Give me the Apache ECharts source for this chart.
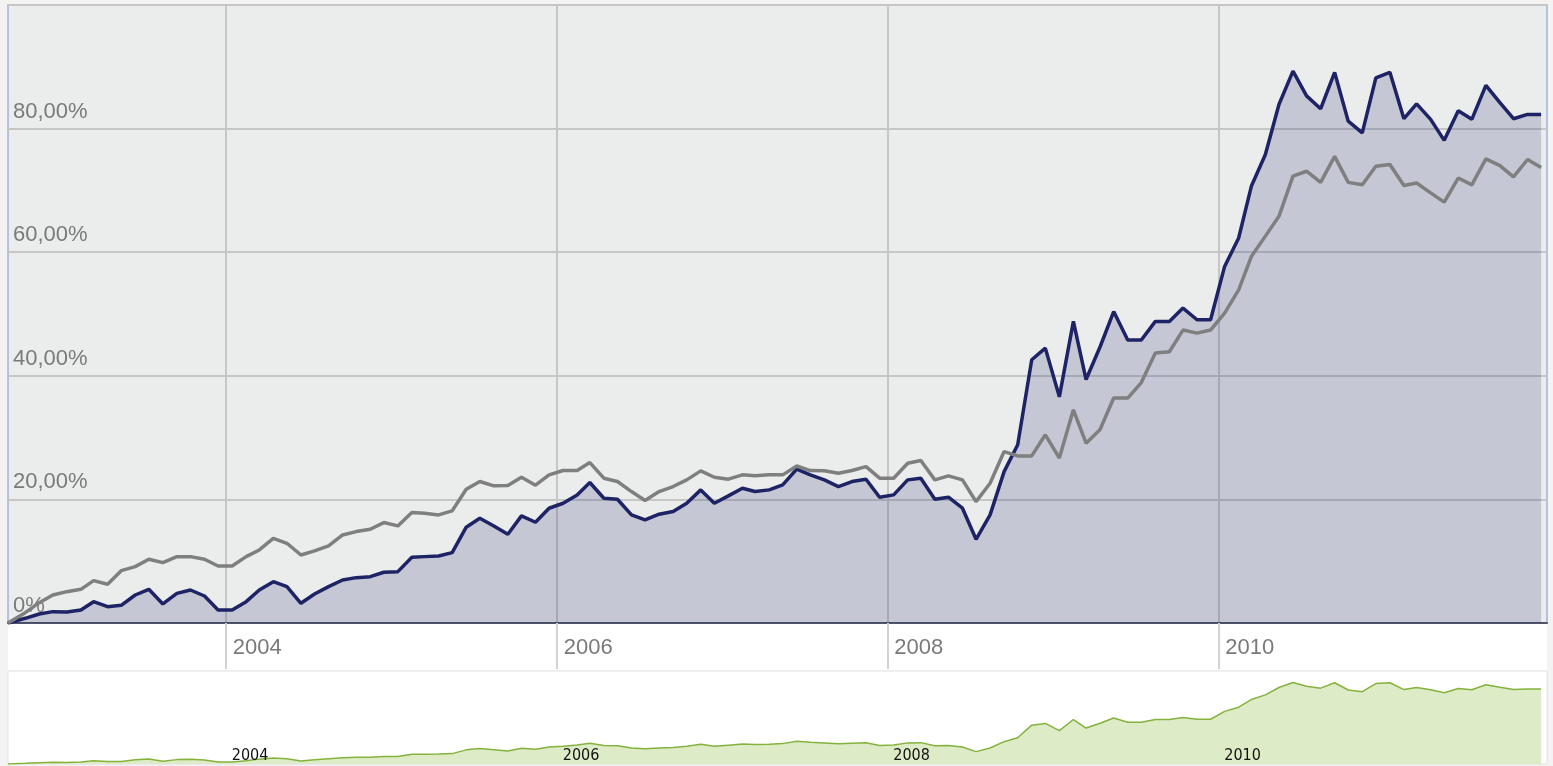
<!DOCTYPE html>
<html><head><meta charset="utf-8">
<script src="https://cdn.jsdelivr.net/npm/echarts@6/dist/echarts.min.js"></script>
<style>html,body{margin:0;padding:0;background:#f3f3f3}#c{width:1553px;height:766px}</style>
</head><body><div id="c"></div>
<script>
// ---- data ----
const inceptionDate = [2002, 9, 7];       // first observation (year, month, day)
const monthlyFrom = [2002, 10];           // following observations: 15th of each month, Oct 2002 .. Dec 2011
const fundValues = [0, 0.76, 1.46, 1.84, 1.78, 2.1, 3.45, 2.64, 2.86, 4.53, 5.45, 3.08, 4.8, 5.34, 4.37, 2.1,
  2.1, 3.45, 5.34, 6.69, 5.88, 3.19, 4.70, 5.88, 6.96, 7.34,
  7.5, 8.21, 8.31, 10.64, 10.74, 10.85, 11.39, 15.5, 16.96, 15.71,
  14.36, 17.33, 16.3, 18.57, 19.38, 20.73, 22.73, 20.19, 20.03, 17.49,
  16.68, 17.6, 18.03, 19.38, 21.54, 19.38, 20.57, 21.81, 21.27, 21.54,
  22.35, 24.9, 23.97, 23.16, 22.08, 22.89, 23.27, 20.35, 20.73, 23.16,
  23.43, 20.03, 20.35, 18.57, 13.55, 17.49, 24.5, 28.83, 42.59, 44.48,
  36.6, 48.8, 39.4, 44.7, 50.4, 45.8, 45.8, 48.8, 48.8, 50.96,
  49.07, 49.07, 57.7, 62.3, 70.66, 75.8, 83.9, 89.3, 85.3, 83.2,
  89.1, 81.2, 79.3, 88.2, 89.1, 81.6, 84.0, 81.5, 78.1, 82.9,
  81.5, 87.0, 84.2, 81.6, 82.3, 82.3];
const benchmarkValues = [0, 1.67, 3.29, 4.53, 5.07, 5.45, 6.86, 6.26, 8.47, 9.12, 10.31, 9.77, 10.74, 10.74, 10.31, 9.23,
  9.23, 10.74, 11.82, 13.7, 12.9, 11.0, 11.66, 12.47, 14.25, 14.79,
  15.17, 16.25, 15.71, 17.87, 17.76, 17.49, 18.14, 21.65, 22.89, 22.19,
  22.24, 23.59, 22.3, 23.97, 24.67, 24.67, 25.96, 23.43, 22.89, 21.27,
  19.81, 21.27, 22.08, 23.16, 24.62, 23.59, 23.27, 23.97, 23.81, 23.97,
  23.97, 25.4, 24.67, 24.62, 24.24, 24.67, 25.31, 23.43, 23.43, 25.86,
  26.28, 23.16, 23.81, 23.16, 19.65, 22.62, 27.74, 27.04, 27.04, 30.45,
  26.7, 34.5, 29.1, 31.3, 36.4, 36.4, 38.9, 43.7, 43.9, 47.4,
  46.9, 47.4, 50.15, 53.9, 59.3, 62.6, 65.8, 72.3, 73.1, 71.3,
  75.5, 71.3, 70.9, 73.9, 74.2, 70.8, 71.2, 69.6, 68.1, 72.0,
  70.9, 75.1, 74.0, 72.2, 75.0, 73.7];
const yearTicks = [2004, 2006, 2008, 2010];
const yTicks = [0, 20, 40, 60, 80, 100];
const axisStart = [2002, 9, 7];
const axisEnd = [2011, 12, 28];

// ---- build ----
const utc = (y, m, d) => Date.UTC(y, m - 1, d);
const dates = [utc(...inceptionDate)];
for (let i = 1; i < fundValues.length; i++) dates.push(Date.UTC(monthlyFrom[0], monthlyFrom[1] - 1 + (i - 1), 15));
const fundData = dates.map((t, i) => [t, fundValues[i]]);
const benchData = dates.map((t, i) => [t, benchmarkValues[i]]);
const yearValues = yearTicks.map(y => Date.UTC(y, 0, 1));
const xMin = utc(...axisStart), xMax = utc(...axisEnd);
const FONT = '"Liberation Sans", Arial, sans-serif';
const fmtY = v => v === 0 ? '0%' : (v === 100 ? '' : v.toFixed(2).replace('.', ',') + '%');
const fmtYear = v => String(new Date(v).getUTCFullYear());

const chart = echarts.init(document.getElementById('c'), null, {renderer: 'canvas'});
chart.setOption({
  animation: false,
  backgroundColor: '#f3f3f3',
  grid: [
    {left: 8, right: 6, top: 5, height: 618, show: true, backgroundColor: '#ebecec', borderColor: '#a3b3d8', borderWidth: 1.5},
    {left: 8, right: 6, top: 624, height: 46, show: true, backgroundColor: '#ffffff', borderWidth: 0},
    {left: 8, right: 6, top: 671, bottom: 2, show: true, backgroundColor: '#ffffff', borderColor: '#e2e2e2', borderWidth: 1}
  ],
  xAxis: [
    {type: 'value', gridIndex: 0, min: xMin, max: xMax, scale: true,
     axisLine: {show: true, lineStyle: {color: '#4f5468', width: 2}},
     axisTick: {show: true, customValues: yearValues, length: 46, lineStyle: {color: '#d2d2d2', width: 2}},
     axisLabel: {show: true, customValues: yearValues, align: 'left', verticalAlign: 'top', margin: 14, padding: [0, 0, 0, 7],
       color: '#7a7a7a', fontSize: 22, fontFamily: FONT, formatter: fmtYear},
     splitLine: {show: true, lineStyle: {color: '#c6c6c6', width: 2}}},
    {type: 'value', gridIndex: 1, min: xMin, max: xMax, show: false},
    {type: 'value', gridIndex: 2, min: xMin, max: xMax, z: 20,
     axisLine: {show: false}, axisTick: {show: false}, splitLine: {show: false},
     axisLabel: {show: true, inside: true, customValues: yearValues, align: 'left', verticalAlign: 'bottom', margin: 0, padding: [0, 0, 0, 6],
       color: '#111111', fontSize: 16, fontFamily: '"Liberation Sans Narrow", "DejaVu Sans Condensed", "Liberation Sans", sans-serif',
       formatter: fmtYear}}
  ],
  yAxis: [
    {type: 'value', gridIndex: 0, min: yTicks[0], max: yTicks[yTicks.length - 1], interval: yTicks[1] - yTicks[0],
     axisLine: {show: false}, axisTick: {show: false},
     axisLabel: {inside: true, margin: 5, verticalAlign: 'bottom', padding: [0, 0, 6, 0], color: '#7a7a7a', fontSize: 22, fontFamily: FONT, formatter: fmtY},
     splitLine: {show: true, lineStyle: {color: '#c6c6c6', width: 2}}},
    {type: 'value', gridIndex: 1, show: false},
    {type: 'value', gridIndex: 2, min: 0, max: 102, show: false}
  ],
  series: [
    {type: 'line', xAxisIndex: 0, yAxisIndex: 0, data: fundData, showSymbol: false, symbol: 'none',
     lineStyle: {color: '#1e2366', width: 3.5}, areaStyle: {color: 'rgba(35,40,110,0.27)'}, z: 2},
    {type: 'line', xAxisIndex: 0, yAxisIndex: 0, data: benchData, showSymbol: false, symbol: 'none',
     lineStyle: {color: '#7f7f7f', width: 3.5}, z: 3},
    {type: 'line', xAxisIndex: 2, yAxisIndex: 2, data: fundData, showSymbol: false, symbol: 'none',
     lineStyle: {color: '#85b23c', width: 1.5}, areaStyle: {color: '#ddecc7', opacity: 1}, z: 1}
  ]
});
</script>
</body></html>
